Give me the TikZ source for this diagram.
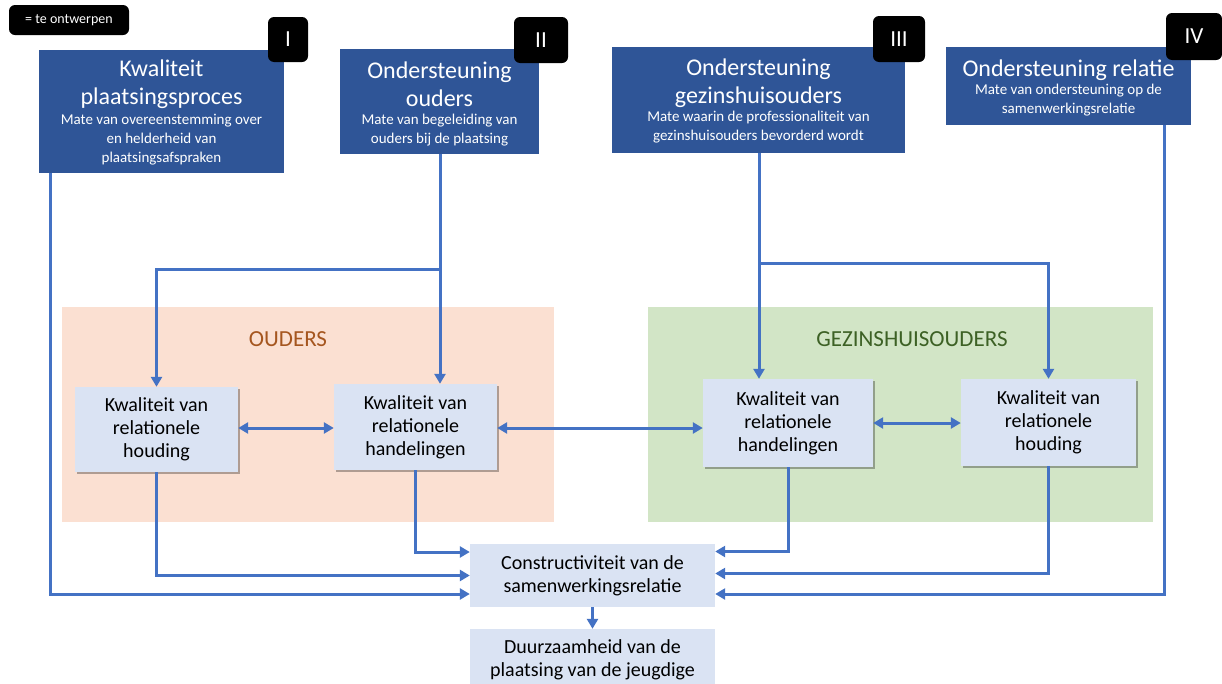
\documentclass[tikz,border=0pt]{standalone}
\usepackage{fontspec}
\setmainfont{Carlito}
\usetikzlibrary{arrows.meta,shadows}
\definecolor{dblue}{HTML}{2F5597}
\definecolor{cblue}{HTML}{4472C4}
\definecolor{lblue}{HTML}{DAE3F3}
\definecolor{salmon}{HTML}{FBE0D2}
\definecolor{lgreen}{HTML}{D2E5C6}
\definecolor{oudc}{HTML}{A5561F}
\definecolor{gezc}{HTML}{3D6125}
\tikzset{
  topbox/.style={fill=dblue, draw=none, inner sep=0pt},
  ttl/.style={text=white, align=center, inner sep=0pt, font=\fontsize{24}{28}\selectfont},
  sub/.style={text=white, align=center, inner sep=0pt, font=\fontsize{15}{19}\selectfont},
  badge/.style={fill=black, rounded corners=6pt, text=white, inner sep=0pt, font=\fontsize{23}{26}\selectfont},
  region/.style={draw=none, inner sep=0pt},
  reglabel/.style={inner sep=0pt, font=\fontsize{23}{26}\selectfont},
  inbox/.style={fill=lblue, draw=none, align=center, inner sep=0pt, font=\fontsize{20}{23}\selectfont,
    drop shadow={shadow xshift=2pt, shadow yshift=-2pt, opacity=0.3, fill=black}},
  outbox/.style={fill=lblue, draw=none, align=center, inner sep=0pt, font=\fontsize{20}{23}\selectfont},
  conn/.style={draw=cblue, line width=3pt, -{Triangle[length=10pt,width=11pt]}},
  dconn/.style={draw=cblue, line width=3pt, {Triangle[length=10pt,width=11pt]}-{Triangle[length=10pt,width=11pt]}}
}
\begin{document}
\begin{tikzpicture}[x=1pt,y=-1pt]
\useasboundingbox (0,0) rectangle (1222,683);
\fill[white] (0,0) rectangle (1222,683);

% legend
\node[fill=black, rounded corners=6pt, text=white, inner sep=0pt, minimum width=120pt, minimum height=30pt,
  font=\fontsize{14}{16}\selectfont] (leg) at (69,20) {= te ontwerpen};

% regions
\node[region, fill=salmon, minimum width=492pt, minimum height=215pt] (rO) at (308,414.5) {};
\node[region, fill=lgreen, minimum width=505pt, minimum height=215pt] (rG) at (900.5,414.5) {};
\node[reglabel, text=oudc] (lO) at (288,339) {OUDERS};
\node[reglabel, text=gezc] (lG) at (912,339) {GEZINSHUISOUDERS};

% top boxes
\node[topbox, minimum width=245pt, minimum height=123pt] (bI) at (161.5,111.5) {};
\node[ttl] (tI) at (161.5,84) {Kwaliteit\\plaatsingsproces};
\node[sub] (sI) at (161.5,140) {Mate van overeenstemming over\\en helderheid van\\plaatsingsafspraken};
\node[badge, minimum width=40pt, minimum height=45pt] (gI) at (288,39.5) {I};

\node[topbox, minimum width=199pt, minimum height=105pt] (bII) at (439.5,101.5) {};
\node[ttl] (tII) at (439.5,84) {Ondersteuning\\ouders};
\node[sub] (sII) at (439.5,130) {Mate van begeleiding van\\ouders bij de plaatsing};
\node[badge, minimum width=54pt, minimum height=46pt] (gII) at (541,40) {II};

\node[topbox, minimum width=293pt, minimum height=106pt] (bIII) at (758.5,100) {};
\node[ttl] (tIII) at (758.5,83) {Ondersteuning\\gezinshuisouders};
\node[sub] (sIII) at (758.5,127.5) {Mate waarin de professionaliteit van\\gezinshuisouders bevorderd wordt};
\node[badge, minimum width=52pt, minimum height=46pt] (gIII) at (899,39) {III};

\node[topbox, minimum width=245pt, minimum height=78pt] (bIV) at (1068.5,86) {};
\node[ttl] (tIV) at (1068.5,70) {Ondersteuning relatie};
\node[sub] (sIV) at (1068.5,100) {Mate van ondersteuning op de\\samenwerkingsrelatie};
\node[badge, minimum width=56pt, minimum height=47pt] (gIV) at (1194,36.5) {IV};

% inner boxes
\node[inbox, minimum width=163pt, minimum height=85pt] (A) at (156.5,429.5) {Kwaliteit van\\relationele\\houding};
\node[inbox, minimum width=163pt, minimum height=86pt] (B) at (415.5,427) {Kwaliteit van\\relationele\\handelingen};
\node[inbox, minimum width=170pt, minimum height=88pt] (C) at (788,423) {Kwaliteit van\\relationele\\handelingen};
\node[inbox, minimum width=175pt, minimum height=87pt] (D) at (1048.5,422.5) {Kwaliteit van\\relationele\\houding};

% bottom boxes
\node[outbox, minimum width=245pt, minimum height=63pt] (K) at (592.5,575.5) {Constructiviteit van de\\samenwerkingsrelatie};
\node[outbox, minimum width=245pt, minimum height=62pt] (Dz) at (592.5,660) {Duurzaamheid van de\\plaatsing van de jeugdige};

% helper coordinates
\coordinate (xI) at (50,0);
\coordinate (xII) at (440,0);
\coordinate (xIII) at (759,0);
\coordinate (xIV) at (1164,0);
\coordinate (jII) at (440,269);
\coordinate (jIII) at (759,263);
\coordinate (yAB) at (0,428);

% connectors
\draw[conn] (bII.south -| xII) -- (B.north -| xII);
\draw[conn] (jII) -| (A.north);
\draw[conn] (bIII.south -| xIII) -- (C.north -| xIII);
\draw[conn] (jIII) -| (D.north);
\draw[conn] (bI.south -| xI) |- ([yshift=-18.5pt]K.west);
\draw[conn] (bIV.south -| xIV) |- ([yshift=-18.5pt]K.east);
\draw[conn] (A.south) |- (K.west);
\draw[conn] (B.south) |- ([yshift=23.5pt]K.west);
\draw[conn] (C.south) |- ([yshift=24pt]K.east);
\draw[conn] (D.south) |- ([yshift=2pt]K.east);
\draw[conn] (K.south) -- (Dz.north);
\draw[dconn] (A.east |- yAB) -- (B.west |- yAB);
\draw[dconn] (B.east |- yAB) -- (C.west |- yAB);
\draw[dconn] (C.east) -- (D.west |- C.east);
\end{tikzpicture}
\end{document}
